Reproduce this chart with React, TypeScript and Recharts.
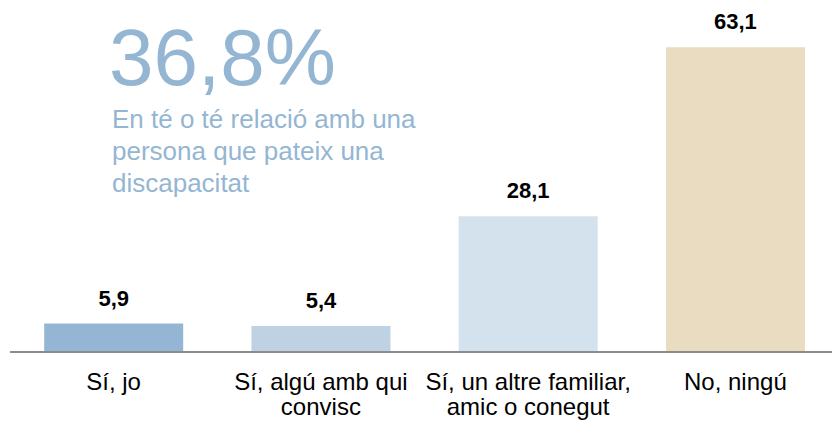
import { BarChart, Bar, XAxis, YAxis, Cell, LabelList } from "recharts";

const categories = [
  "Sí, jo",
  "Sí, algú amb qui|convisc",
  "Sí, un altre familiar,|amic o conegut",
  "No, ningú",
];
const values = [5.9, 5.4, 28.1, 63.1];
const colors = ["#94b5d3", "#bed2e4", "#d4e2ed", "#e9dcc1"];

const headline = "36,8%";
const subtitle = ["En té o té relació amb una", "persona que pateix una", "discapacitat"];

const data = categories.map((c, i) => ({ name: c, value: values[i] }));

const FONT = "'Liberation Sans', Arial, sans-serif";

// category labels, split on "|" into two lines
const CatTick = (props: any) => {
  const { x, y, payload } = props;
  const lines = String(payload.value).split("|");
  return (
    <text x={x} y={y} textAnchor="middle" fontFamily={FONT} fontSize={24} fill="#000">
      {lines.map((l: string, i: number) => (
        <tspan key={i} x={x} dy={i === 0 ? 30 : 25}>
          {l}
        </tspan>
      ))}
    </text>
  );
};

export default function App() {
  return (
    <div
      style={{
        position: "absolute",
        top: 0,
        left: 0,
        width: 832,
        height: 421,
        overflow: "hidden",
        background: "#fff",
      }}
    >
      <BarChart
        width={840}
        height={421}
        data={data}
        margin={{ top: 14, right: 1, bottom: 0, left: 10 }}
        barCategoryGap="16.5%"
      >
        <XAxis
          dataKey="name"
          height={69}
          tickLine={false}
          axisLine={{ stroke: "#8c8c8c", strokeWidth: 2 }}
          tick={<CatTick />}
          interval={0}
        />
        <YAxis hide domain={[0, 70]} />
        <Bar dataKey="value" isAnimationActive={false}>
          {data.map((d, i) => (
            <Cell key={d.name} fill={colors[i]} />
          ))}
          <LabelList
            dataKey="value"
            position="top"
            offset={18}
            formatter={(v: any) => Number(v).toFixed(1).replace(".", ",")}
            style={{ fontFamily: FONT, fontSize: 22, fontWeight: "bold", fill: "#000" }}
          />
        </Bar>
      </BarChart>
      <div
        style={{
          position: "absolute",
          left: 109,
          top: 18,
          fontFamily: FONT,
          color: "#94b6d3",
          fontSize: 80,
          lineHeight: "80px",
        }}
      >
        {headline}
      </div>
      <div
        style={{
          position: "absolute",
          left: 112,
          top: 103,
          fontFamily: FONT,
          color: "#94b6d3",
          fontSize: 26,
          lineHeight: "32px",
        }}
      >
        {subtitle.map((s) => (
          <div key={s}>{s}</div>
        ))}
      </div>
    </div>
  );
}
